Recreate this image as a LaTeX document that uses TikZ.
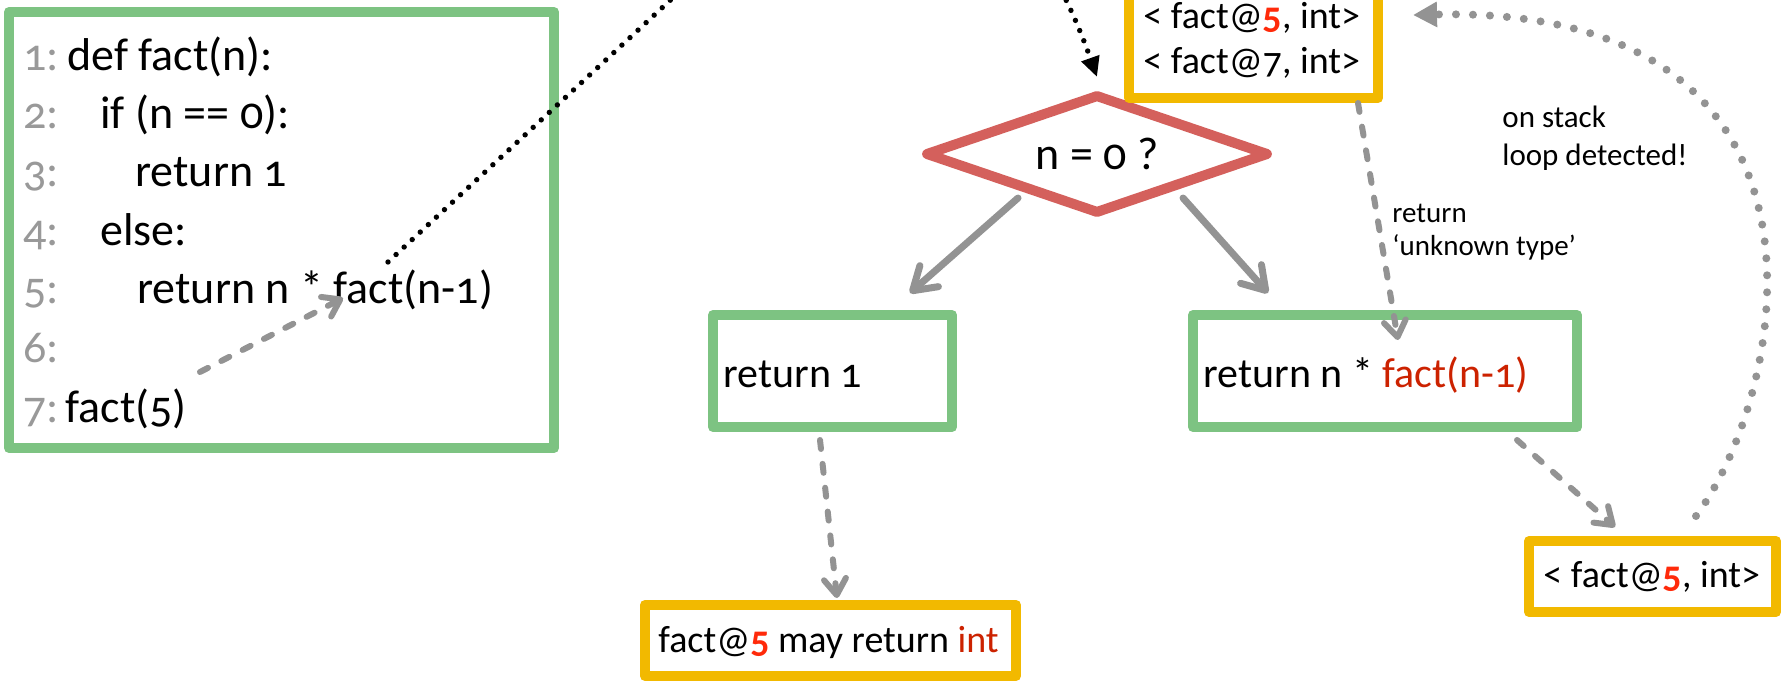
\documentclass[tikz,border=0pt]{standalone}
\usepackage{fontspec}
\setmainfont{Carlito}[Numbers=OldStyle]
\usetikzlibrary{arrows.meta,shapes.geometric}
\definecolor{boxgreen}{HTML}{7DC382}
\definecolor{boxyellow}{HTML}{F2B900}
\definecolor{diared}{HTML}{D4605C}
\definecolor{arrgrey}{HTML}{939393}
\definecolor{lngrey}{HTML}{999999}
\definecolor{txtred}{HTML}{CC2200}
\definecolor{fivered}{HTML}{FF2A0A}
\newcommand{\redfive}{\textcolor{fivered}{\textbf{5}}}
\tikzset{
 greenbox/.style={draw=boxgreen, line width=5pt, rectangle, inner sep=0pt, line join=round},
 yellowbox/.style={draw=boxyellow, line width=5pt, rectangle, inner sep=0pt, line join=round},
 decision/.style={draw=diared, line width=5pt, diamond, shape aspect=2.87, inner sep=0pt, line join=round, font=\fontsize{23}{27}\selectfont},
 codetxt/.style={anchor=base west, inner sep=0pt, font=\fontsize{23}{27}\selectfont},
 lnum/.style={codetxt, text=lngrey},
 boxtxt/.style={anchor=base west, inner sep=0pt, font=\fontsize{21}{25}\selectfont},
 ytxt/.style={anchor=base west, inner sep=0pt, font=\fontsize{19}{23}\selectfont},
 lbl/.style={anchor=base west, inner sep=0pt, font=\fontsize{14.5}{17}\selectfont},
 lblb/.style={anchor=base west, inner sep=0pt, font=\fontsize{15.5}{18}\selectfont},
 solidarr/.style={draw=arrgrey, line width=3.5pt, line cap=round, -{Straight Barb[length=11pt,width=14pt,line cap=round,line join=round]}},
 dasharr/.style={draw=arrgrey, line width=3pt, line cap=round, dash pattern=on 4.5pt off 7.5pt, -{Straight Barb[length=8pt,width=11pt,line cap=round,line join=round]}},
 blackdots/.style={draw=black, line width=2.7pt, line cap=round, dash pattern=on 0pt off 5.5pt, -{Triangle[length=10pt,width=9pt]}},
 greydots/.style={draw=arrgrey, line width=4pt, line cap=round, dash pattern=on 0pt off 8.5pt, -{Triangle[length=12pt,width=12pt]}},
}
\begin{document}
\begin{tikzpicture}[x=0.5pt,y=-0.5pt]
\useasboundingbox (0,0) rectangle (1781,680);
\clip (0,0) rectangle (1781,680);
\fill[white] (0,0) rectangle (1781,680);

% boxes
\node[greenbox, minimum width=272.5pt, minimum height=218pt] (code) at (281.5,230) {};
\node[decision, minimum width=172pt, minimum height=60pt] (dia) at (1097,154) {n = 0 ?};
\node[yellowbox, minimum width=124.5pt, minimum height=59pt] (stk) at (1253.5,39) {};
\node[greenbox, minimum width=119.5pt, minimum height=56pt] (ret1) at (832.5,371) {};
\node[greenbox, minimum width=192pt, minimum height=56pt] (retn) at (1385,371) {};
\node[yellowbox, minimum width=185.5pt, minimum height=35.5pt] (res) at (830.5,640.5) {};
\node[yellowbox, minimum width=123.5pt, minimum height=35.5pt] (stk2) at (1652.5,576.5) {};

% code listing
\node[lnum] (n1) at (23,70) {1:};
\node[codetxt] (c1) at (67,70) {def fact(n):};
\node[lnum] (n2) at (23,128) {2:};
\node[codetxt] (c2) at (100,128) {if (n == 0):};
\node[lnum] (n3) at (23,186) {3:};
\node[codetxt] (c3) at (135,186) {return 1};
\node[lnum] (n4) at (23,245) {4:};
\node[codetxt] (c4) at (100,245) {else:};
\node[lnum] (n5) at (23,303) {5:};
\node[codetxt] (c5) at (137,303) {return n * fact(n-1)};
\node[lnum] (n6) at (23,362) {6:};
\node[lnum] (n7) at (23,422) {7:};
\node[codetxt] (c7) at (65,422) {fact(5)};

% box texts
\node[ytxt] (t1) at (1143,28) {< fact@\redfive, int>};
\node[ytxt] (t2) at (1143,73) {< fact@7, int>};
\node[ytxt] (t3) at (1543,587) {< fact@\redfive, int>};
\node[ytxt] (t4) at (658,652) {fact@\redfive{} may return \textcolor{txtred}{int}};
\node[boxtxt] (t5) at (723,387) {return 1};
\node[boxtxt] (t6) at (1203,387) {return n * \textcolor{txtred}{fact(n-1)}};

% labels
\node[lbl] (l1) at (1392,222) {return};
\node[lbl] (l2) at (1392,255) {‘unknown type’};
\node[lblb] (s1) at (1502,127) {on stack};
\node[lblb] (s2) at (1502,165) {loop detected!};

% connectors
\coordinate (callsrc) at (200,372);
\coordinate (calldst) at (343,298);
\coordinate (rec) at (388,262);
\draw[dasharr] (callsrc) -- (calldst);
\draw[blackdots] (rec) -- (705,-32) .. controls (869,-183) and (1010,-168) .. ([yshift=6pt]dia.north);
\draw[solidarr] ([shift={(-79,44)}]dia.center) -- ([shift={(-47,-17)}]ret1.north east);
\draw[solidarr] ([shift={(86,44)}]dia.center) -- ([shift={(80,-17)}]retn.north west);
\draw[dasharr] ([shift={(-25,0)}]stk.south east) -- ([shift={(210,30)}]retn.north west);
\draw[dasharr] ([shift={(-12.5,8)}]ret1.south) -- ([shift={(6.5,-2)}]res.north);
\draw[dasharr] ([shift={(-65,8)}]retn.south east) -- ([shift={(91,-9)}]stk2.north west);
\draw[greydots] ([shift={(43.5,-20)}]stk2.north) .. controls (1790,390) and (1860,5) .. ([shift={(30,-24)}]stk.east);
\end{tikzpicture}
\end{document}
